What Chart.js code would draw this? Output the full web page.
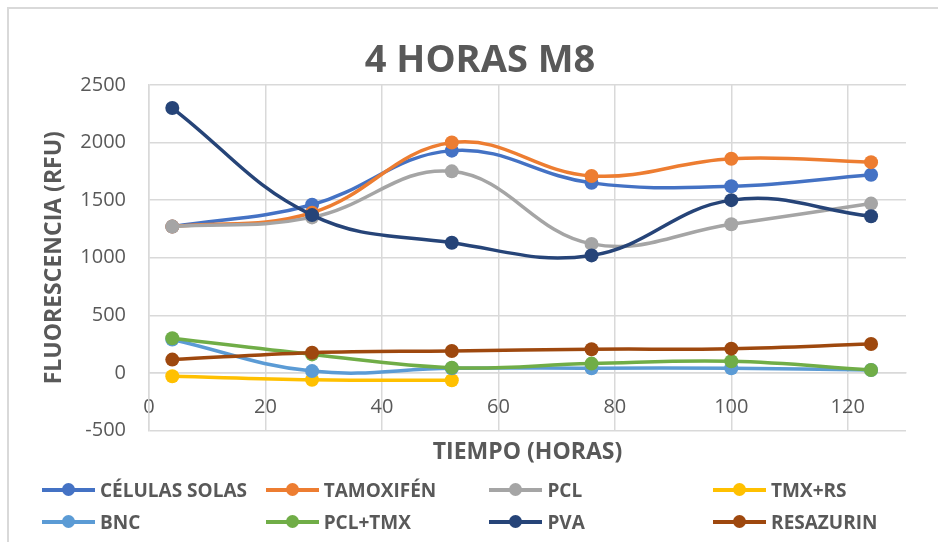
<!DOCTYPE html>
<html lang="es">
<head>
    <meta charset="UTF-8">
    <title>4 HORAS M8</title>
    <script src="https://cdn.jsdelivr.net/npm/chart.js"></script>
    <style>
        body { margin: 0; background: #fff; font-family: "Open Sans", sans-serif; }
        .wrap { position: relative; width: 938px; height: 542px; overflow: hidden; }
        .frame { position: absolute; left: 7px; top: 7px; width: 940px; height: 540px; border: 2px solid #d9d9d9; }
        canvas { position: absolute; left: 0; top: 0; }
        .title { position: absolute; left: 0; top: 34px; width: 960px; text-align: center; color: #595959; font-weight: bold; font-size: 38px; line-height: 46px; }
        .legend { position: absolute; left: 0; top: 0; }
        .item { position: absolute; height: 24px; display: flex; align-items: center; color: #595959; font-weight: bold; font-size: 19px; white-space: nowrap; }
        .sym { position: relative; width: 53px; height: 4px; margin-right: 5px; }
        .sym i { position: absolute; left: 20px; top: -5px; width: 13px; height: 13px; border-radius: 50%; }
    </style>
</head>
<body>
<div class="wrap">
    <div class="frame"></div>
    <canvas id="chart" width="938" height="542"></canvas>
    <div class="title">4 HORAS M8</div>
    <div class="legend" id="legend"></div>
</div>
<script>
    // datos
    const hours = [4, 28, 52, 76, 100, 124];
    const celulasSolas = [1270, 1460, 1930, 1650, 1620, 1720];
    const tamoxifen = [1270, 1390, 2000, 1710, 1860, 1830];
    const pcl = [1270, 1350, 1750, 1120, 1290, 1470];
    const tmxRs = [-30, -60, -65];
    const bnc = [290, 15, 40, 40, 40, 25];
    const pclTmx = [300, 160, 45, 80, 100, 25];
    const pva = [2300, 1370, 1130, 1020, 1500, 1360];
    const resazurin = [115, 175, 190, 205, 210, 250];

    const seriesNames = ['CÉLULAS SOLAS', 'TAMOXIFÉN', 'PCL', 'TMX+RS', 'BNC', 'PCL+TMX', 'PVA', 'RESAZURIN'];
    const seriesValues = [celulasSolas, tamoxifen, pcl, tmxRs, bnc, pclTmx, pva, resazurin];
    const seriesColors = ['#4472C4', '#ED7D31', '#A5A5A5', '#FFC000', '#5B9BD5', '#70AD47', '#264478', '#9E480E'];

    const gray = '#595959';
    const gridColor = '#d9d9d9';

    const datasets = seriesNames.map((name, i) => ({
        label: name,
        data: seriesValues[i].map((v, j) => ({ x: hours[j], y: v })),
        borderColor: seriesColors[i],
        backgroundColor: seriesColors[i],
        borderWidth: 3.5,
        pointRadius: 7,
        pointHoverRadius: 7,
        pointBorderWidth: 0,
        tension: 0.4,
        order: seriesNames.length - i
    }));

    new Chart(document.getElementById('chart'), {
        type: 'line',
        data: { datasets: datasets },
        options: {
            responsive: false,
            animation: false,
            layout: { padding: { left: 10, right: 32, top: 85, bottom: 76 } },
            plugins: {
                legend: { display: false },
                tooltip: { enabled: false }
            },
            scales: {
                x: {
                    type: 'linear',
                    position: { y: 0 },
                    min: 0,
                    max: 130,
                    afterBuildTicks: (axis) => { axis.ticks = axis.ticks.filter(t => t.value % 20 === 0); },
                    ticks: { stepSize: 20, color: gray, padding: 22, font: { family: 'Open Sans', size: 20 }, callback: (v) => String(v) },
                    grid: { color: gridColor, lineWidth: 1.5, drawTicks: false },
                    border: { color: gridColor, width: 1.5 }
                },
                xTitle: {
                    type: 'linear',
                    position: 'bottom',
                    axis: 'x',
                    min: 0,
                    max: 130,
                    ticks: { display: false },
                    grid: { display: false },
                    border: { display: false },
                    title: {
                        display: true,
                        text: 'TIEMPO (HORAS)',
                        color: gray,
                        font: { family: 'Open Sans', size: 23, weight: 'bold' },
                        padding: { top: 0, bottom: 0 }
                    }
                },
                y: {
                    min: -500,
                    max: 2500,
                    afterFit: (scale) => { scale.width = 139; },
                    ticks: { stepSize: 500, color: gray, padding: 23, font: { family: 'Open Sans', size: 20 }, callback: (v) => String(v) },
                    grid: { color: gridColor, lineWidth: 1.5, drawTicks: false },
                    border: { color: gridColor, width: 1.5 },
                    title: {
                        display: true,
                        text: 'FLUORESCENCIA (RFU)',
                        color: gray,
                        font: { family: 'Open Sans', size: 23, weight: 'bold' },
                        padding: { top: 31, bottom: 0 }
                    }
                }
            }
        }
    });

    // leyenda en 4 columnas, como en el original
    const legend = document.getElementById('legend');
    seriesNames.forEach((name, i) => {
        const item = document.createElement('div');
        item.className = 'item';
        item.style.left = (42 + (i % 4) * 223.7) + 'px';
        item.style.top = (478 + Math.floor(i / 4) * 31.5) + 'px';
        item.innerHTML = '<span class="sym" style="background:' + seriesColors[i] + '"><i style="background:' + seriesColors[i] + '"></i></span>' + name;
        legend.appendChild(item);
    });
</script>
</body>
</html>
